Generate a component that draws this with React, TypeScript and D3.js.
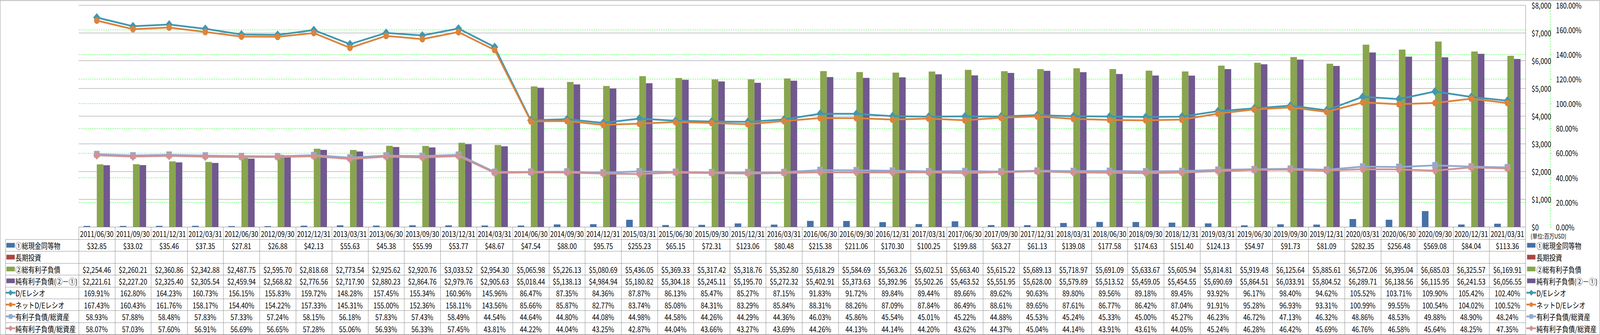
import { useEffect, useRef } from "react";
import * as d3 from "d3";

const categories = [
  "2011/06/30", "2011/09/30", "2011/12/31", "2012/03/31", "2012/06/30", "2012/09/30", "2012/12/31", "2013/03/31",
  "2013/06/30", "2013/09/30", "2013/12/31", "2014/03/31", "2014/06/30", "2014/09/30", "2014/12/31", "2015/03/31",
  "2015/06/30", "2015/09/30", "2015/12/31", "2016/03/31", "2016/06/30", "2016/09/30", "2016/12/31", "2017/03/31",
  "2017/06/30", "2017/09/30", "2017/12/31", "2018/03/31", "2018/06/30", "2018/09/30", "2018/12/31", "2019/03/31",
  "2019/06/30", "2019/09/30", "2019/12/31", "2020/03/31", "2020/06/30", "2020/09/30", "2020/12/31", "2021/03/31",
];

// 百万USD
const cash = [
  32.85, 33.02, 35.46, 37.35, 27.81, 26.88, 42.13, 55.63, 45.38, 55.99, 53.77, 48.67, 47.54, 88.0, 95.75, 255.23,
  65.15, 72.31, 123.06, 80.48, 215.38, 211.06, 170.3, 100.25, 199.88, 63.27, 61.13, 139.08, 177.58, 174.63, 151.4,
  124.13, 54.97, 91.73, 81.09, 282.35, 256.48, 569.08, 84.04, 113.36,
];
const longTermInvest: (number | null)[] = new Array(categories.length).fill(null);
const totalDebt = [
  2254.46, 2260.21, 2360.86, 2342.88, 2487.75, 2595.7, 2818.68, 2773.54, 2925.62, 2920.76, 3033.52, 2954.3, 5065.98,
  5226.13, 5080.69, 5436.05, 5369.33, 5317.42, 5318.76, 5352.8, 5618.29, 5584.69, 5563.26, 5602.51, 5663.4, 5615.22,
  5689.13, 5718.97, 5691.09, 5633.67, 5605.94, 5814.81, 5919.48, 6125.64, 5885.61, 6572.06, 6395.04, 6685.03, 6325.57,
  6169.91,
];
const netDebt = [
  2221.61, 2227.2, 2325.4, 2305.54, 2459.94, 2568.82, 2776.56, 2717.9, 2880.23, 2864.76, 2979.76, 2905.63, 5018.44,
  5138.13, 4984.94, 5180.82, 5304.18, 5245.11, 5195.7, 5272.32, 5402.91, 5373.63, 5392.96, 5502.26, 5463.52, 5551.95,
  5628.0, 5579.89, 5513.52, 5459.05, 5454.55, 5690.69, 5864.51, 6033.91, 5804.52, 6289.71, 6138.56, 6115.95, 6241.53,
  6056.55,
];

// %
const deRatio = [
  169.91, 162.8, 164.23, 160.73, 156.15, 155.83, 159.72, 148.28, 157.45, 155.34, 160.96, 145.96, 86.47, 87.35, 84.36,
  87.87, 86.13, 85.47, 85.27, 87.15, 91.83, 91.72, 89.84, 89.44, 89.66, 89.62, 90.63, 89.8, 89.56, 89.18, 89.45, 93.92,
  96.17, 98.4, 94.62, 105.52, 103.71, 109.9, 105.42, 102.4,
];
const netDeRatio = [
  167.43, 160.43, 161.76, 158.17, 154.4, 154.22, 157.33, 145.31, 155.0, 152.36, 158.11, 143.56, 85.66, 85.87, 82.77,
  83.74, 85.08, 84.31, 83.29, 85.84, 88.31, 88.26, 87.09, 87.84, 86.49, 88.61, 89.65, 87.61, 86.77, 86.42, 87.04,
  91.91, 95.28, 96.93, 93.31, 100.99, 99.55, 100.54, 104.02, 100.52,
];
const debtToAssets = [
  58.93, 57.88, 58.48, 57.83, 57.33, 57.24, 58.15, 56.18, 57.83, 57.43, 58.49, 44.54, 44.64, 44.8, 44.08, 44.98,
  44.58, 44.26, 44.29, 44.36, 46.03, 45.86, 45.54, 45.01, 45.22, 44.88, 45.53, 45.24, 45.33, 45.0, 45.27, 46.23, 46.72,
  47.13, 46.32, 48.86, 48.53, 49.88, 48.9, 48.24,
];
const netDebtToAssets = [
  58.07, 57.03, 57.6, 56.91, 56.69, 56.65, 57.28, 55.06, 56.93, 56.33, 57.45, 43.81, 44.22, 44.04, 43.25, 42.87,
  44.04, 43.66, 43.27, 43.69, 44.26, 44.13, 44.14, 44.2, 43.62, 44.37, 45.04, 44.14, 43.91, 43.61, 44.05, 45.24, 46.28,
  46.42, 45.69, 46.76, 46.58, 45.64, 48.25, 47.35,
];

const moneyTicks = [0, 1000, 2000, 3000, 4000, 5000, 6000, 7000, 8000];
const pctTicks = [0, 20, 40, 60, 80, 100, 120, 140, 160, 180];

type Series = {
  name: string;
  color: string;
  values: (number | null)[];
  kind: "bar" | "line";
  marker?: "diamond" | "circle" | "square";
};

const series: Series[] = [
  { name: "①総現金同等物", color: "#4572A7", values: cash, kind: "bar" },
  { name: "長期投資", color: "#AA4643", values: longTermInvest, kind: "bar" },
  { name: "②総有利子負債", color: "#89A54E", values: totalDebt, kind: "bar" },
  { name: "純有利子負債(②－①)", color: "#71588F", values: netDebt, kind: "bar" },
  { name: "D/Eレシオ", color: "#4198AF", values: deRatio, kind: "line", marker: "diamond" },
  { name: "ネットD/Eレシオ", color: "#DB843D", values: netDeRatio, kind: "line", marker: "circle" },
  { name: "有利子負債/総資産", color: "#93A9CF", values: debtToAssets, kind: "line", marker: "square" },
  { name: "純有利子負債/総資産", color: "#D19392", values: netDebtToAssets, kind: "line", marker: "diamond" },
];

const FONT = "'Noto Sans CJK JP', 'Noto Sans', sans-serif";
const W = 4981;
const H = 858;

const App = () => {
  const ref = useRef<SVGSVGElement>(null);

  useEffect(() => {
    document.body.style.margin = "0";
    document.body.style.overflow = "hidden";
    draw();
  }, []);

  // squeeze a text if it is wider than the room it has
  const fit = (sel: any, maxW: number) => {
    sel.each(function (this: SVGTextElement) {
      const len = this.getComputedTextLength();
      if (len > maxW) {
        d3.select(this).attr("textLength", maxW).attr("lengthAdjust", "spacingAndGlyphs");
      }
    });
  };

  const draw = () => {
    const grey = "#868686";

    const plot = { left: 245, right: 4749, top: 13, bottom: 581 };
    const tableBottom = 856;
    const headerBottom = 613;

    // viewBox keeps the whole chart inside whatever viewport the page gets
    const svg = d3.select(ref.current).attr("viewBox", `0 0 ${W} ${H}`).attr("preserveAspectRatio", "none");
    svg.selectAll("*").remove();

    svg
      .append("rect")
      .attr("x", 0.5)
      .attr("y", 1.5)
      .attr("width", W - 1.5)
      .attr("height", H - 2.5)
      .attr("fill", "#fff")
      .attr("stroke", grey);

    // scales
    const xScale = d3.scaleBand<string>().domain(categories).range([plot.left, plot.right]);
    const bw = xScale.bandwidth();
    const barNames = series.filter((s) => s.kind === "bar").map((s) => s.name);
    const groupW = bw * 0.728;
    const inner = d3.scaleBand<string>().domain(barNames).range([(bw - groupW) / 2, (bw + groupW) / 2]);
    const yMoney = d3.scaleLinear().domain([0, 8000]).range([plot.bottom, plot.top]);
    const yPct = d3.scaleLinear().domain([0, 180]).range([plot.bottom, plot.top]);

    // gridlines
    const grid = svg.append("g");
    grid
      .selectAll("line.pct")
      .data(pctTicks.filter((t) => t > 0 && t < 180))
      .join("line")
      .attr("x1", plot.left)
      .attr("x2", plot.right)
      .attr("y1", (d) => Math.round(yPct(d)) + 0.5)
      .attr("y2", (d) => Math.round(yPct(d)) + 0.5)
      .attr("stroke", "#00FF00")
      .attr("stroke-dasharray", "4,3");
    grid
      .selectAll("line.money")
      .data(moneyTicks)
      .join("line")
      .attr("x1", plot.left)
      .attr("x2", plot.right)
      .attr("y1", (d) => Math.round(yMoney(d)) + 0.5)
      .attr("y2", (d) => Math.round(yMoney(d)) + 0.5)
      .attr("stroke", grey);

    // bars
    series
      .filter((s) => s.kind === "bar")
      .forEach((s) => {
        svg
          .append("g")
          .selectAll("rect")
          .data(s.values.map((v, i) => ({ v, c: categories[i] })).filter((d) => d.v != null))
          .join("rect")
          .attr("x", (d) => (xScale(d.c) as number) + (inner(s.name) as number))
          .attr("width", inner.bandwidth())
          .attr("y", (d) => yMoney(d.v as number))
          .attr("height", (d) => plot.bottom - yMoney(d.v as number))
          .attr("fill", s.color);
      });

    const markerPath = (m: string, scale = 1) => {
      if (m === "circle") return d3.symbol(d3.symbolCircle, 230 * scale * scale)();
      if (m === "square") return d3.symbol(d3.symbolSquare, 300 * scale * scale)();
      return d3.symbol(d3.symbolSquare, 250 * scale * scale)();
    };
    const markerRot = (m: string) => (m === "diamond" ? " rotate(45)" : "");

    // lines
    series
      .filter((s) => s.kind === "line")
      .forEach((s) => {
        const pts = s.values.map((v, i) => ({ v: v as number, c: categories[i] }));
        const cx = (d: { c: string }) => (xScale(d.c) as number) + bw / 2;
        const line = d3
          .line<{ v: number; c: string }>()
          .x(cx)
          .y((d) => yPct(d.v));
        const g = svg.append("g");
        g.append("path")
          .attr("d", line(pts))
          .attr("fill", "none")
          .attr("stroke", s.color)
          .attr("stroke-width", 4.5)
          .attr("stroke-linejoin", "round");
        g.selectAll("path.m")
          .data(pts)
          .join("path")
          .attr("class", "m")
          .attr("d", markerPath(s.marker as string))
          .attr("transform", (d) => `translate(${cx(d)},${yPct(d.v)})${markerRot(s.marker as string)}`)
          .attr("fill", s.color);
      });

    // right axis ($ and %)
    const axisX = 4826.5;
    svg
      .append("line")
      .attr("x1", axisX)
      .attr("x2", axisX)
      .attr("y1", plot.top)
      .attr("y2", plot.bottom)
      .attr("stroke", "#00FF00")
      .attr("stroke-dasharray", "4,3");
    svg
      .append("g")
      .selectAll("line")
      .data(pctTicks)
      .join("line")
      .attr("x1", axisX)
      .attr("x2", axisX + 4)
      .attr("y1", (d) => Math.round(yPct(d)) + 0.5)
      .attr("y2", (d) => Math.round(yPct(d)) + 0.5)
      .attr("stroke", "#00FF00");

    const fmtMoneyTick = d3.format("$,");
    svg
      .append("g")
      .selectAll("text")
      .data(moneyTicks)
      .join("text")
      .attr("x", 4768)
      .attr("y", (d) => yMoney(d))
      .attr("dominant-baseline", "central")
      .attr("font-family", FONT)
      .attr("font-size", 20)
      .attr("fill", "#000")
      .text((d) => fmtMoneyTick(d));
    svg
      .append("g")
      .selectAll("text")
      .data(pctTicks)
      .join("text")
      .attr("x", 4844)
      .attr("y", (d) => yPct(d))
      .attr("dominant-baseline", "central")
      .attr("font-family", FONT)
      .attr("font-size", 20)
      .attr("fill", "#000")
      .text((d) => `${d.toFixed(2)}%`);

    svg
      .append("text")
      .attr("x", 4765)
      .attr("y", 604)
      .attr("dominant-baseline", "central")
      .attr("font-family", FONT)
      .attr("font-size", 16)
      .attr("fill", "#000")
      .text("(単位:百万USD)");

    // data table
    const yRow = d3
      .scaleBand<string>()
      .domain(series.map((s) => s.name))
      .range([headerBottom, tableBottom]);
    const rh = yRow.bandwidth();
    const table = svg.append("g");
    const hLines = [plot.bottom, ...series.map((s) => yRow(s.name) as number), tableBottom];
    table
      .selectAll("line.h")
      .data(hLines)
      .join("line")
      .attr("x1", (d, i) => (i === 0 ? plot.left : 17))
      .attr("x2", plot.right)
      .attr("y1", (d) => Math.round(d) + 0.5)
      .attr("y2", (d) => Math.round(d) + 0.5)
      .attr("stroke", grey);
    table
      .selectAll("line.v")
      .data([...categories.map((c) => xScale(c) as number), plot.right])
      .join("line")
      .attr("x1", (d) => Math.round(d) + 0.5)
      .attr("x2", (d) => Math.round(d) + 0.5)
      .attr("y1", plot.bottom)
      .attr("y2", tableBottom)
      .attr("stroke", grey);
    // plot right border
    svg
      .append("line")
      .attr("x1", plot.right + 0.5)
      .attr("x2", plot.right + 0.5)
      .attr("y1", plot.top)
      .attr("y2", plot.bottom)
      .attr("stroke", grey);
    table
      .append("line")
      .attr("x1", 17.5)
      .attr("x2", 17.5)
      .attr("y1", headerBottom)
      .attr("y2", tableBottom)
      .attr("stroke", grey);

    const catText = table
      .selectAll("text.cat")
      .data(categories)
      .join("text")
      .attr("x", (d) => (xScale(d) as number) + bw / 2)
      .attr("y", (plot.bottom + headerBottom) / 2 + 1)
      .attr("text-anchor", "middle")
      .attr("dominant-baseline", "central")
      .attr("font-family", FONT)
      .attr("font-size", 20)
      .attr("fill", "#000")
      .text((d) => d);
    fit(catText, bw - 8);

    const fmtMoney = d3.format("$,.2f");
    series.forEach((s) => {
      const cy = (yRow(s.name) as number) + rh / 2;
      const cells = table
        .append("g")
        .selectAll("text")
        .data(s.values.map((v, i) => ({ v, c: categories[i] })).filter((d) => d.v != null))
        .join("text")
        .attr("x", (d) => (xScale(d.c) as number) + bw / 2)
        .attr("y", cy + 1)
        .attr("text-anchor", "middle")
        .attr("dominant-baseline", "central")
        .attr("font-family", FONT)
        .attr("font-size", 20)
        .attr("fill", "#000")
        .text((d) => (s.kind === "bar" ? fmtMoney(d.v as number) : `${(d.v as number).toFixed(2)}%`));
      fit(cells, bw - 8);
    });

    // legend keys (table left column and right legend)
    const drawKey = (g: any, s: Series, x0: number, cy: number) => {
      if (s.kind === "bar") {
        g.append("rect")
          .attr("x", x0)
          .attr("y", cy - 6)
          .attr("width", 26)
          .attr("height", 12)
          .attr("fill", s.color);
      } else {
        g.append("line")
          .attr("x1", x0 - 2)
          .attr("x2", x0 + 28)
          .attr("y1", cy)
          .attr("y2", cy)
          .attr("stroke", s.color)
          .attr("stroke-width", 4.5);
        g.append("path")
          .attr("d", markerPath(s.marker as string, 0.68))
          .attr("transform", `translate(${x0 + 13},${cy})${markerRot(s.marker as string)}`)
          .attr("fill", s.color);
      }
    };
    const legend = svg.append("g");
    series.forEach((s) => {
      const cy = (yRow(s.name) as number) + rh / 2;
      drawKey(legend, s, 20, cy);
      const left = legend
        .append("text")
        .attr("x", 48)
        .attr("y", cy + 1)
        .attr("dominant-baseline", "central")
        .attr("font-family", FONT)
        .attr("font-size", 20)
        .attr("fill", "#000")
        .text(s.name);
      fit(left, plot.left - 48 - 4);
      drawKey(legend, s, 4754, cy);
      const right = legend
        .append("text")
        .attr("x", 4783)
        .attr("y", cy + 1)
        .attr("dominant-baseline", "central")
        .attr("font-family", FONT)
        .attr("font-size", 20)
        .attr("fill", "#000")
        .text(s.name);
      fit(right, W - 4783 - 8);
    });
  };

  return (
    <div>
      <svg ref={ref} style={{ display: "block", width: "100vw", height: "100vh" }}></svg>
    </div>
  );
};

export default App;
